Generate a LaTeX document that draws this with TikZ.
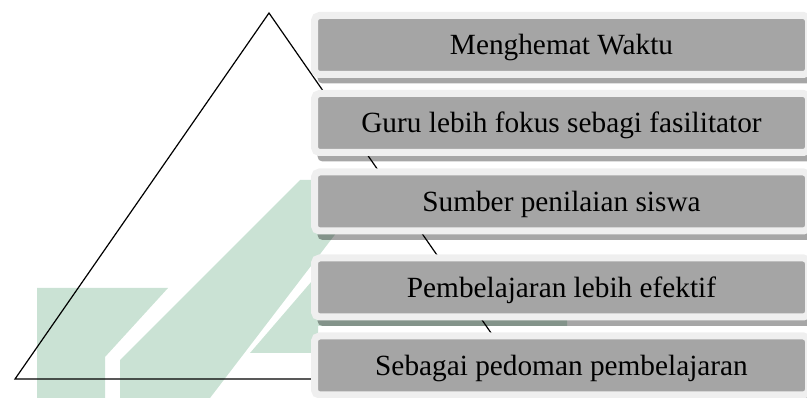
\documentclass[tikz,border=0pt]{standalone}
\usepackage{fontspec}
\setmainfont{Liberation Serif}
\usepackage{xcolor}
\usetikzlibrary{positioning, shadows}

\definecolor{tiergray}{RGB}{165,165,165}
\definecolor{tierrim}{RGB}{239,239,239}
\definecolor{markgreen}{RGB}{202,226,212}

\begin{document}
\begin{tikzpicture}[
                x=1pt, y=-1pt,
                node distance=19pt,
                tier/.style={
                    fill=tiergray, draw=tierrim, line width=7pt,
                    rounded corners=5pt, outer sep=0pt,
                    minimum width=494pt, minimum height=59pt,
                    text height=19.5pt, text depth=0pt,
                    font=\fontsize{29.3}{34}\selectfont,
                    drop shadow={shadow xshift=3pt, shadow yshift=-9pt,
                                 fill=black, opacity=.35}
                }
            ]
                \useasboundingbox (0,0) rectangle (807,398);
                \clip (0,0) rectangle (807,398);

                % faded watermark in the background
                \fill[markgreen] (37,288) -- (168,288) -- (105,357) -- (105,398) -- (37,398) -- cycle;
                \fill[markgreen] (120,398) -- (120,360) -- (300,180) -- (340,180) -- (340,228) -- (210,398) -- cycle;
                \fill[markgreen] (250,353) -- (318,274) -- (567,274) -- (567,326) -- (318,326) -- (318,353) -- cycle;

                % pyramid
                \coordinate (apex) at (269,13);
                \coordinate (baseL) at (15,379);
                \coordinate (baseR) at (523,379);
                \draw[line width=1.2pt] (apex) -- (baseL) -- (baseR) -- cycle;

                % tiers
                \node[tier] (hemat) at (561.5,45) {Menghemat Waktu};
                \node[tier] (guru) [below=of hemat] {Guru lebih fokus sebagi fasilitator};
                \node[tier] (nilai) [below=19.5pt of guru] {Sumber penilaian siswa};
                \node[tier] (efektif) [below=27pt of nilai] {Pembelajaran lebih efektif};
                \node[tier] (pedoman) [below=of efektif] {Sebagai pedoman pembelajaran};
            \end{tikzpicture}
\end{document}
